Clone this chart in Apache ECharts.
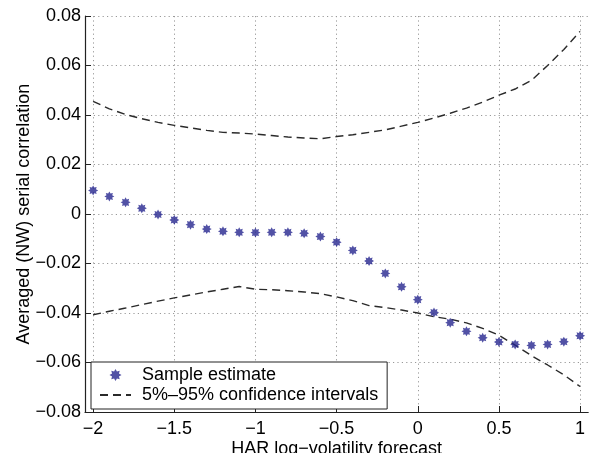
<!DOCTYPE html>
<html><head><meta charset="utf-8">
<script src="https://cdn.jsdelivr.net/npm/echarts@6/dist/echarts.min.js"></script>
<style>html,body{margin:0;padding:0;background:#fff}#c{width:589px;height:453px}</style>
</head><body><div id="c"></div>
<script>
const xValues = [-2,-1.9,-1.8,-1.7,-1.6,-1.5,-1.4,-1.3,-1.2,-1.1,-1.0,-0.9,-0.8,-0.7,-0.6,-0.5,-0.4,-0.3,-0.2,-0.1,0,0.1,0.2,0.3,0.4,0.5,0.6,0.7,0.8,0.9,1.0];
const sampleEstimate = [0.0095,0.0071,0.0047,0.0023,-0.0002,-0.0024,-0.0043,-0.0061,-0.0070,-0.0074,-0.0075,-0.0074,-0.0074,-0.0078,-0.0091,-0.0114,-0.0147,-0.0190,-0.0240,-0.0294,-0.0346,-0.0398,-0.0439,-0.0474,-0.0500,-0.0517,-0.0527,-0.0531,-0.0527,-0.0516,-0.0492];
const upperCI = [0.0455,0.0425,0.0402,0.0385,0.0370,0.0358,0.0348,0.0338,0.0330,0.0327,0.0323,0.0317,0.0311,0.0307,0.0304,0.0313,0.0320,0.0330,0.0340,0.0355,0.0370,0.0388,0.0407,0.0428,0.0452,0.0480,0.0505,0.0540,0.0600,0.0665,0.0738];
const lowerCI = [-0.0407,-0.0393,-0.0380,-0.0366,-0.0352,-0.0339,-0.0327,-0.0315,-0.0304,-0.0293,-0.0304,-0.0306,-0.0310,-0.0315,-0.0322,-0.0335,-0.0350,-0.0370,-0.0378,-0.0388,-0.0400,-0.0415,-0.0425,-0.0440,-0.0462,-0.0490,-0.0530,-0.0572,-0.0610,-0.0650,-0.0697];
const seriesNames = ['Sample estimate', '5%–95% confidence intervals'];
const xTitle = 'HAR log−volatility forecast';
const yTitle = 'Averaged (NW) serial correlation';
const xLimits = [-2.05, 1.05];
const yLimits = [-0.08, 0.08];

const pairs = a => xValues.map((x, i) => [x, a[i]]);
const minus = s => String(s).replace('-', '−');
const star = (function(){
  let d = '';
  const n = 8, ro = 1, ri = 0.62;
  for (let i = 0; i < 2*n; i++) {
    const r = i % 2 ? ri : ro;
    const a = Math.PI * i / n - Math.PI/2;
    d += (i ? 'L' : 'M') + (r*Math.cos(a)).toFixed(3) + ' ' + (r*Math.sin(a)).toFixed(3) + ' ';
  }
  return 'path://' + d + 'Z';
})();
const font = 'Liberation Sans, Arial, Helvetica, sans-serif';
const chart = echarts.init(document.getElementById('c'));
const dashStyle = {color: '#2a2a2a', width: 1.4, type: [8, 5]};
const gridLine = {show: true, showMinLine: false, showMaxLine: false, lineStyle: {color: '#999', type: [1.2, 3.2], width: 1}};
chart.setOption({
  animation: false,
  backgroundColor: '#fff',
  grid: {left: 85, top: 16, width: 503.2, bottom: 41, containLabel: false, outerBoundsMode: 'none'},
  legend: {
    left: 91, top: 362, orient: 'vertical',
    backgroundColor: '#fff', borderColor: '#222', borderWidth: 1,
    padding: [4, 9, 5, 8], itemGap: 2, itemWidth: 31, itemHeight: 12,
    textStyle: {fontFamily: font, fontSize: 18, color: '#000', padding: [0, 0, 0, 6]},
    data: [{name: seriesNames[0]}, {name: seriesNames[1], itemStyle: {opacity: 0}}]
  },
  xAxis: {
    type: 'value', min: xLimits[0], max: xLimits[1], splitNumber: 6,
    name: xTitle, nameLocation: 'middle', nameGap: 28, nameMoveOverlap: false,
    nameTextStyle: {fontFamily: font, fontSize: 18, color: '#000'},
    axisLine: {onZero: false, lineStyle: {color: '#222', width: 1.2}},
    axisTick: {inside: true, length: 6, lineStyle: {color: '#222'}},
    axisLabel: {fontFamily: font, fontSize: 18, color: '#000', margin: 8, showMinLabel: false, showMaxLabel: false,
      formatter: v => (Math.abs(v*2 - Math.round(v*2)) < 1e-6) ? minus(v) : ''},
    splitLine: gridLine
  },
  yAxis: {
    type: 'value', min: yLimits[0], max: yLimits[1], interval: 0.02,
    name: yTitle, nameLocation: 'middle', nameGap: 52, nameMoveOverlap: false,
    nameTextStyle: {fontFamily: font, fontSize: 18, color: '#000'},
    axisLine: {show: true, onZero: false, lineStyle: {color: '#222', width: 1.2}},
    axisTick: {show: true, inside: true, length: 6, lineStyle: {color: '#222'}},
    axisLabel: {fontFamily: font, fontSize: 18, color: '#000', margin: 4,
      formatter: v => Math.abs(v) < 1e-9 ? '0' : minus(v.toFixed(2))},
    splitLine: {show: true, showMinLine: false, showMaxLine: true, lineStyle: gridLine.lineStyle}
  },
  series: [
    {name: seriesNames[0], type: 'scatter', data: pairs(sampleEstimate),
     symbol: star, symbolSize: 10, itemStyle: {color: '#25258f'}, z: 3},
    {name: seriesNames[1], type: 'line', data: pairs(upperCI), symbol: 'none', showSymbol: false,
     lineStyle: dashStyle, itemStyle: {color: '#2a2a2a'}},
    {name: seriesNames[1], type: 'line', data: pairs(lowerCI), symbol: 'none', showSymbol: false,
     lineStyle: dashStyle, itemStyle: {color: '#2a2a2a'}}
  ]
});
</script></body></html>
